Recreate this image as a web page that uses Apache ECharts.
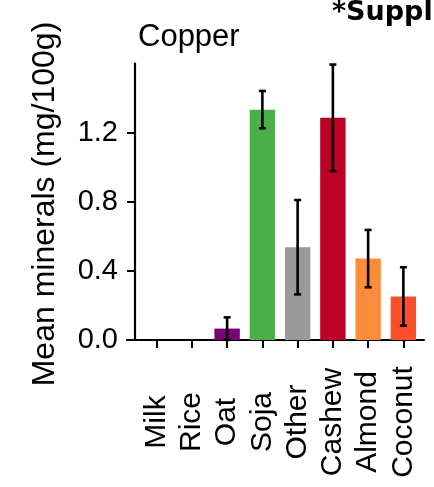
<!DOCTYPE html>
<html>
<head>
<meta charset="utf-8">
<script src="https://cdn.jsdelivr.net/npm/echarts@6/dist/echarts.min.js"></script>
<style>
  html, body { margin: 0; padding: 0; background: #ffffff; }
  #chart { width: 434px; height: 487px; }
</style>
</head>
<body>
<div id="chart"></div>
<script>
// Copper content of plant-based drinks: mean and spread per drink type
const categories = ['Milk', 'Rice', 'Oat', 'Soja', 'Other', 'Cashew', 'Almond', 'Coconut'];
const means      = [0, 0, 0.066, 1.333, 0.537, 1.286, 0.471, 0.252];
const errors     = [0, 0, 0.065, 0.108, 0.273, 0.308, 0.166, 0.169];
const barColors  = ['#cccccc', '#cccccc', '#7a0177', '#4daf4a', '#999999', '#bd0026', '#fd8d3c', '#fc4e2a'];
const yTicks     = [0, 0.4, 0.8, 1.2];
const yMax       = 1.6;

const chart = echarts.init(document.getElementById('chart'), null, { renderer: 'canvas' });

const labelFont = 'Liberation Sans, Arial, sans-serif';

const option = {
  backgroundColor: '#ffffff',
  animation: false,
  grid: [
    { left: 139, right: 13, top: 63.5, bottom: 147 },
    { left: 127, right: 10, top: 63.5, bottom: 147 }
  ],
  xAxis: [
    {
      type: 'category',
      gridIndex: 0,
      data: categories,
      boundaryGap: true,
      axisLine: { show: false },
      axisTick: {
        show: true, alignWithLabel: true, length: 8, inside: false,
        lineStyle: { color: '#000', width: 2 }
      },
      axisLabel: {
        rotate: 90, align: 'center', margin: 82, interval: 0,
        fontFamily: labelFont, fontSize: 30, color: '#000'
      },
      splitLine: { show: false }
    },
    {
      // long baseline running under the whole panel
      type: 'value',
      gridIndex: 1,
      min: 0, max: 1,
      axisLine: { show: true, onZero: false, lineStyle: { color: '#000', width: 2.2 } },
      axisTick: { show: false },
      axisLabel: { show: false },
      splitLine: { show: false }
    }
  ],
  yAxis: [
    {
      type: 'value',
      gridIndex: 0,
      min: 0, max: yMax,
      offset: 4,
      axisLine: { show: true, lineStyle: { color: '#000', width: 2.2 } },
      axisTick: {
        show: true, length: 8, customValues: yTicks,
        lineStyle: { color: '#000', width: 2 }
      },
      axisLabel: {
        customValues: yTicks, margin: 17,
        formatter: v => v.toFixed(1),
        fontFamily: labelFont, fontSize: 29, color: '#000'
      },
      splitLine: { show: false }
    },
    {
      type: 'value', gridIndex: 1, min: 0, max: 1, show: false
    }
  ],
  series: [
    {
      type: 'bar',
      xAxisIndex: 0, yAxisIndex: 0,
      barWidth: '72%',
      data: means.map((v, i) => ({ value: v, itemStyle: { color: barColors[i] } })),
      z: 2
    },
    {
      type: 'custom',
      xAxisIndex: 0, yAxisIndex: 0,
      data: means.map((v, i) => [i, v, errors[i]]),
      encode: { x: 0, y: 1 },
      z: 5,
      renderItem: function (params, api) {
        const idx = api.value(0), m = api.value(1), e = api.value(2);
        if (!e) return null;
        const hi = api.coord([idx, m + e]);
        const lo = api.coord([idx, m - e]);
        const cap = 3.5;
        const style = { stroke: '#000', lineWidth: 2.6 };
        return {
          type: 'group',
          children: [
            { type: 'line', shape: { x1: hi[0], y1: hi[1], x2: lo[0], y2: lo[1] }, style: style },
            { type: 'line', shape: { x1: hi[0] - cap, y1: hi[1], x2: hi[0] + cap, y2: hi[1] }, style: style },
            { type: 'line', shape: { x1: lo[0] - cap, y1: lo[1], x2: lo[0] + cap, y2: lo[1] }, style: style }
          ]
        };
      }
    }
  ],
  graphic: [
    {
      type: 'text', left: 138, top: 22,
      style: { text: 'Copper', font: '31px ' + labelFont, fill: '#000' }
    },
    {
      type: 'text', left: 332, top: -1,
      style: { text: '*Suppl', font: 'bold 27px DejaVu Sans, sans-serif', fill: '#000' }
    },
    {
      type: 'text', x: 45, y: 204, rotation: Math.PI / 2,
      style: {
        text: 'Mean minerals (mg/100g)', font: '32px ' + labelFont, fill: '#000',
        align: 'center', verticalAlign: 'middle'
      }
    }
  ]
};

chart.setOption(option);
</script>
</body>
</html>
